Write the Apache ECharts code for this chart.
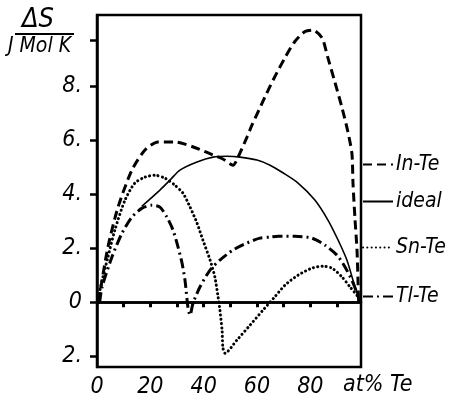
<!DOCTYPE html>
<html>
<head>
<meta charset="utf-8">
<script src="https://cdn.jsdelivr.net/npm/echarts@6/dist/echarts.min.js"></script>
<style>
  html, body { margin: 0; padding: 0; background: #fff; }
  #chart { width: 451px; height: 400px; }
</style>
</head>
<body>
<div id="chart"></div>
<script>
// values (x: at% Te, y: ΔS in J/(Mol K))
var inTeX = [0.8, 1.1, 4.1, 7.9, 13.1, 18.0, 22.9, 29.2, 33.0, 38.6, 43.5, 47.2, 51.0, 52.9, 56.2, 58.1, 63.0, 66.7, 70.5, 74.2, 78.0, 81.0, 84.4, 86.6, 89.2, 91.9, 94.1, 95.6, 96.0, 96.7, 97.5, 97.9, 98.1];
var inTeY = [0, 0.33, 2.04, 3.52, 4.89, 5.63, 5.93, 5.93, 5.85, 5.65, 5.45, 5.30, 5.07, 5.37, 6.10, 6.55, 7.60, 8.35, 9.05, 9.65, 10.02, 10.07, 9.78, 9.04, 8.15, 7.19, 6.30, 5.50, 4.40, 3.15, 1.93, 0.70, 0];

var idealX = [16.8, 23.6, 27.4, 31.1, 37.5, 43.5, 48.7, 53.6, 60.0, 64.9, 69.4, 75.4, 81.7, 86.6, 90.4, 93.7, 96.0, 97.9, 98.2];
var idealY = [3.55, 4.15, 4.52, 4.89, 5.19, 5.37, 5.40, 5.37, 5.26, 5.07, 4.81, 4.41, 3.78, 3.04, 2.30, 1.56, 0.81, 0.19, 0];

var snTeX = [0.8, 1.1, 4.1, 6.7, 10.5, 14.2, 18.0, 21.7, 25.5, 29.2, 32.2, 34.9, 37.5, 39.7, 42.4, 44.2, 45.4, 46.1, 46.9, 47.2, 48.0, 52.5, 57.4, 62.2, 66.7, 70.5, 75.4, 80.6, 84.7, 88.1, 91.9, 94.9, 97.9, 98.3];
var snTeY = [0, 0.44, 1.67, 2.67, 3.78, 4.41, 4.63, 4.70, 4.59, 4.33, 4.04, 3.52, 2.93, 2.30, 1.56, 0.93, 0.19, -0.30, -1.04, -1.67, -1.89, -1.40, -0.85, -0.30, 0.20, 0.63, 1.00, 1.26, 1.33, 1.26, 0.93, 0.56, 0.19, 0];

var tlTeX = [1.0, 1.9, 5.6, 9.4, 13.1, 16.9, 20.6, 23.6, 26.2, 28.5, 30.4, 31.9, 33.0, 34.1, 34.9, 36.0, 38.6, 42.4, 46.1, 51.0, 56.2, 61.1, 64.9, 67.9, 74.2, 80.6, 85.5, 90.0, 93.0, 95.6, 97.5, 98.2];
var tlTeY = [0, 0.56, 1.67, 2.56, 3.15, 3.48, 3.59, 3.52, 3.15, 2.67, 2.04, 1.44, 0.81, -0.19, -0.48, -0.04, 0.56, 1.19, 1.56, 1.93, 2.19, 2.37, 2.41, 2.44, 2.44, 2.37, 2.11, 1.74, 1.30, 0.81, 0.33, 0];

var xTicks = [10, 20, 30, 40, 50, 60, 70, 80, 90];
var xLabels = [0, 20, 40, 60, 80];
var yTicks = [-2, 0, 2, 4, 6, 8, 9.7];
var yLabels = [-2, 0, 2, 4, 6, 8];

function pairs(xs, ys) {
  return xs.map(function (x, i) { return [x, ys[i]]; });
}

var font = "'Liberation Sans Narrow', 'DejaVu Sans Condensed', 'Liberation Sans', sans-serif";

var chart = echarts.init(document.getElementById('chart'));

function legendAt(name, top) {
  return {
    data: [name], left: 362, top: top, orient: 'vertical',
    itemWidth: 30, itemHeight: 20, padding: 0, selectedMode: false,
    itemStyle: { opacity: 0 },
    textStyle: { fontFamily: font, fontStyle: 'italic', fontSize: 21, color: '#000', padding: [0, 0, 0, -2] }
  };
}

var option = {
  animation: false,
  backgroundColor: '#fff',
  grid: {
    left: 97, right: 90, top: 15, bottom: 33,
    show: true, borderColor: '#000', borderWidth: 2.5
  },
  legend: [
    legendAt('In-Te', 154),
    legendAt('ideal', 191),
    legendAt('Sn-Te', 237),
    legendAt('Tl-Te', 286)
  ],
  xAxis: {
    type: 'value', min: 0, max: 99,
    axisLine: { show: true, lineStyle: { color: '#000', width: 2.5 } },
    axisTick: { show: true, customValues: xTicks, length: 5, lineStyle: { color: '#000', width: 3 } },
    axisLabel: {
      customValues: xLabels, margin: 9, color: '#000',
      fontFamily: font, fontStyle: 'italic', fontSize: 23,
      formatter: function (v) { return String(v); }
    },
    splitLine: { show: false }
  },
  yAxis: {
    type: 'value', min: -2.4, max: 10.63,
    axisLine: { show: true, lineStyle: { color: '#000', width: 2.5 } },
    axisTick: { show: true, customValues: yTicks, length: 7, lineStyle: { color: '#000', width: 2.5 } },
    axisLabel: {
      customValues: yLabels, margin: 15, color: '#000',
      fontFamily: font, fontStyle: 'italic', fontSize: 23,
      formatter: function (v) { return v === 0 ? '0' : Math.abs(v) + '.'; }
    },
    splitLine: { show: false }
  },
  graphic: [
    { type: 'text', left: 22, top: 6, style: { text: 'ΔS', fontFamily: font, fontStyle: 'italic', fontSize: 27, fill: '#000' } },
    { type: 'line', shape: { x1: 15, y1: 34, x2: 74, y2: 34 }, style: { stroke: '#000', lineWidth: 2 } },
    { type: 'text', left: 8, top: 36, style: { text: 'J Mol K', fontFamily: font, fontStyle: 'italic', fontSize: 21, fill: '#000' } },
    { type: 'text', left: 343, top: 374, style: { text: 'at% Te', fontFamily: font, fontStyle: 'italic', fontSize: 23, fill: '#000' } }
  ],
  series: [
    {
      name: 'In-Te', type: 'line', data: pairs(inTeX, inTeY), symbol: 'none', smooth: 0.25,
      itemStyle: { color: '#000' },
      lineStyle: { color: '#000', width: 3, type: [9, 5] }
    },
    {
      name: 'ideal', type: 'line', data: pairs(idealX, idealY), symbol: 'none', smooth: 0.3,
      itemStyle: { color: '#000' },
      lineStyle: { color: '#000', width: 1.6, type: 'solid' }
    },
    {
      name: 'Sn-Te', type: 'line', data: pairs(snTeX, snTeY), symbol: 'none', smooth: 0.25,
      itemStyle: { color: '#000' },
      lineStyle: { color: '#000', width: 3, type: [0.1, 4.2], cap: 'round' }
    },
    {
      name: 'Tl-Te', type: 'line', data: pairs(tlTeX, tlTeY), symbol: 'none', smooth: 0.25,
      itemStyle: { color: '#000' },
      lineStyle: { color: '#000', width: 3, type: [10, 4, 2, 4] },
      markLine: {
        silent: true, symbol: 'none', label: { show: false },
        lineStyle: { color: '#000', width: 2.5, type: 'solid' },
        data: [{ yAxis: 0 }]
      }
    }
  ]
};

chart.setOption(option);
</script>
</body>
</html>
